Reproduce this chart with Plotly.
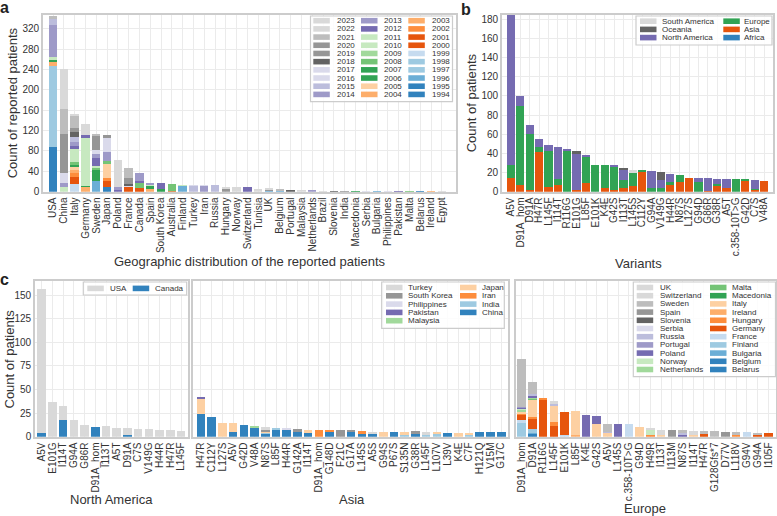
import plotly.graph_objects as go

W, H = 777, 516
FONT = "Liberation Sans, Arial, Helvetica, sans-serif"
TXT = "#333333"

# ---------------- Panel a: patients per country, stacked by year ----------------
countries = ["USA", "China", "Italy", "Germany", "Sweden", "Japan", "Poland", "France",
             "Canada", "Spain", "South Korea", "Australia", "Finland", "Turkey", "Iran",
             "Russia", "Hungary", "Norway", "Switzerland", "Tunisia", "UK", "Belgium",
             "Portugal", "Malaysia", "Netherlands", "Brazil", "Slovenia", "India",
             "Macedonia", "Serbia", "Bulgaria", "Philippines", "Pakistan", "Malta",
             "Belarus", "Ireland", "Egypt"]
years = list(range(1994, 2024))
year_colors = ["#3182bd", "#3182bd", "#6baed6", "#9ecae1", "#9ecae1", "#c6dbef",
               "#e6550d", "#e6550d", "#fd8d3c", "#fdae6b", "#fdae6b", "#fdd0a2",
               "#31a354", "#31a354", "#74c476", "#a1d99b", "#c7e9c0", "#c7e9c0",
               "#756bb1", "#9e9ac8", "#9e9ac8", "#bcbddc", "#dadaeb", "#dadaeb",
               "#636363", "#969696", "#969696", "#bdbdbd", "#d9d9d9", "#d9d9d9"]

# (year, count) pairs per country
usa = [(1995, 88), (1997, 159), (2003, 9), (2007, 3), (2010, 5), (2013, 63), (2015, 13), (2021, 5)]
china = [(2010, 10), (2014, 8), (2016, 19), (2019, 77), (2021, 49), (2022, 77)]
italy = [(1999, 16), (2000, 13), (2002, 7), (2003, 6), (2005, 7), (2007, 3), (2008, 7), (2010, 25),
         (2012, 6), (2014, 8), (2015, 10), (2018, 10), (2019, 7), (2021, 25), (2022, 2)]
germany = [(2003, 10), (2007, 2), (2010, 94), (2012, 5), (2022, 21)]
sweden = [(1996, 22), (2006, 20), (2008, 6), (2010, 3), (2012, 16), (2014, 7), (2016, 7), (2020, 28), (2021, 4)]
japan = [(1995, 9), (2001, 12), (2002, 5), (2005, 29), (2008, 5), (2013, 18), (2016, 28), (2019, 6)]
poland = [(2012, 4), (2014, 6), (2022, 53)]
france = [(2000, 10), (2016, 3), (2018, 3), (2020, 10), (2021, 20)]
canada = [(2000, 8), (2008, 11), (2012, 3), (2014, 15)]
spain = [(2004, 6), (2007, 5), (2010, 4), (2014, 3)]
south_korea = [(2007, 6), (2012, 11)]
australia = [(1996, 1), (2002, 1), (2008, 13)]
finland = [(1996, 12), (2010, 1)]
turkey = [(2015, 12), (2016, 1)]
iran = [(2014, 12), (2016, 1)]
russia = [(2015, 13)]
hungary = [(2019, 7), (2022, 3)]
norway = [(2022, 10)]
switzerland = [(2012, 9)]
tunisia = [(2022, 6)]
uk = [(1996, 2), (2019, 2), (2022, 2)]
belgium = [(1996, 3), (2021, 1)]
portugal = [(2018, 3)]
malaysia = [(2022, 2)]
netherlands = [(2014, 2)]
brazil = [(2022, 1)]
slovenia = [(2018, 1)]
india = [(2019, 1)]
macedonia = [(2007, 1)]
serbia = [(2016, 1)]
bulgaria = [(1996, 1)]
philippines = [(2016, 1)]
pakistan = [(2012, 1)]
malta = [(2008, 1)]
belarus = [(1995, 1)]
ireland = [(2004, 1)]
egypt = [(2022, 1)]
country_segments = [usa, china, italy, germany, sweden, japan, poland, france, canada, spain,
                    south_korea, australia, finland, turkey, iran, russia, hungary, norway,
                    switzerland, tunisia, uk, belgium, portugal, malaysia, netherlands, brazil,
                    slovenia, india, macedonia, serbia, bulgaria, philippines, pakistan, malta,
                    belarus, ireland, egypt]

# ---------------- Panel b: variants by continent ----------------
b_variants = ["A5V", "D91A_hom", "D91A", "H47R", "L145F", "I114T", "R116G", "E101G", "L85F",
              "E101K", "K4E", "G42S", "I113T", "L145S", "C112Y", "G94A", "V149G", "H44R",
              "N87S", "L127S", "G94D", "G86R", "G38R", "A5T", "c.358-10T>G", "G42D", "C7S", "V48A"]
b_africa = [0, 0, 0, 0, 0, 0, 0, 0, 0, 0, 0, 0, 0, 0, 0, 0, 0, 0, 0, 0, 0, 0, 0, 0, 0, 0, 0, 0]
b_asia = [14, 7, 2, 41, 5, 7, 0, 2, 9, 0, 4, 2, 4, 6, 21, 0, 0, 8, 10, 14, 0, 1, 6, 4, 0, 12, 2, 11]
b_europe = [14, 82, 58, 6, 38, 6, 43, 0, 28, 28, 24, 24, 8, 14, 1, 4, 4, 2, 7, 0, 10, 0, 2, 0, 13, 1, 1, 0]
b_namerica = [156, 11, 10, 8, 6, 34, 1, 38, 1, 0, 0, 1, 11, 0, 0, 18, 8, 8, 0, 0, 4, 13, 5, 9, 0, 0, 9, 0]
b_oceania = [0, 0, 0, 0, 0, 0, 0, 2, 0, 0, 0, 0, 2, 0, 0, 0, 9, 0, 0, 0, 0, 0, 0, 0, 0, 0, 0, 0]
b_samerica = [0, 0, 0, 0, 0, 0, 0, 0, 0, 0, 0, 0, 0, 3, 0, 0, 0, 0, 0, 0, 0, 0, 0, 0, 0, 0, 0, 0]
b_names = ["Africa", "Asia", "Europe", "North America", "Oceania", "South America"]
b_colors = ["#3182bd", "#e6550d", "#31a354", "#756bb1", "#636363", "#d9d9d9"]

# ---------------- Panel c: North America ----------------
na_variants = ["A5V", "E101G", "I114T", "G94A", "G86R", "D91A_hom", "I113T", "A5T", "D91A",
               "C7S", "V149G", "H44R", "H47R", "L145F"]
na_canada = [4, 0, 18, 0, 0, 10, 0, 0, 2, 0, 0, 0, 0, 0]
na_usa = [153, 37, 15, 18, 12, 0, 11, 9, 7, 8, 8, 7, 7, 6]
na_names = ["Canada", "USA"]
na_colors = ["#3182bd", "#d9d9d9"]

# ---------------- Panel c: Asia ----------------
asia_variants = ["H47R", "C112Y", "L127S", "A5V", "G42D", "V48A", "N87S", "L85F", "H44R", "G142A",
                 "I114T", "D91A_hom", "G148D", "F21C", "G17A", "L145S", "A5S", "G94S", "P67S",
                 "S135N", "G38R", "L145F", "L107V", "L39V", "K4E", "C7F", "H121Q", "V15M", "G17C"]
asia_china = [24, 21, 0, 5, 12, 10, 3, 8, 8, 5, 4, 0, 6, 0, 6, 3, 3, 0, 5, 0, 3, 0, 0, 4, 0, 0, 5, 5, 5]
asia_india = [0, 0, 0, 0, 0, 0, 1, 1, 0, 0, 0, 0, 0, 0, 0, 0, 0, 0, 0, 2, 0, 2, 3, 0, 0, 2, 0, 0, 0]
asia_iran = [0, 0, 0, 0, 0, 0, 0, 0, 0, 0, 0, 7, 1, 0, 0, 3, 0, 0, 0, 0, 0, 0, 0, 0, 0, 0, 0, 0, 0]
asia_japan = [16, 0, 14, 9, 0, 0, 1, 0, 0, 0, 3, 0, 0, 0, 0, 0, 0, 5, 0, 3, 0, 0, 1, 0, 4, 2, 0, 0, 0]
asia_malaysia = [0, 0, 0, 0, 0, 1, 0, 0, 0, 0, 0, 0, 0, 0, 0, 0, 0, 0, 0, 0, 0, 0, 0, 0, 0, 0, 0, 0, 0]
asia_pakistan = [2, 0, 0, 0, 0, 0, 0, 0, 0, 0, 0, 0, 0, 0, 0, 0, 0, 0, 0, 0, 0, 0, 0, 0, 0, 0, 0, 0, 0]
asia_philippines = [0, 0, 0, 0, 0, 0, 0, 0, 1, 0, 0, 0, 0, 0, 0, 0, 0, 0, 0, 0, 0, 0, 0, 0, 0, 0, 0, 0, 0]
asia_skorea = [0, 0, 0, 0, 0, 0, 3, 0, 0, 3, 0, 0, 0, 7, 1, 0, 0, 0, 0, 0, 3, 0, 0, 0, 0, 0, 0, 0, 0]
asia_turkey = [0, 0, 0, 0, 0, 0, 2, 0, 0, 0, 0, 0, 0, 0, 0, 0, 2, 0, 0, 0, 0, 3, 0, 0, 0, 0, 0, 0, 0]
asia_names = ["China", "India", "Iran", "Japan", "Malaysia", "Pakistan", "Philippines",
              "South Korea", "Turkey"]
asia_colors = ["#3182bd", "#9ecae1", "#fd8d3c", "#fdd0a2", "#a1d99b", "#756bb1", "#dadaeb",
               "#969696", "#d9d9d9"]
asia_values = [asia_china, asia_india, asia_iran, asia_japan, asia_malaysia, asia_pakistan,
               asia_philippines, asia_skorea, asia_turkey]

# ---------------- Panel c: Europe ----------------
eu_variants = ["D91A_hom", "D91A", "R116G", "L145F", "E101K", "L85F", "K4E", "G42S", "A5V", "L145S",
               "c.358-10T>G", "G94D", "H49R", "I113T", "I113M", "N87S", "I114T", "H47R",
               "G128Gfs*7", "D77V", "L118V", "G94V", "G94A", "I105F"]
eu_belarus = [0, 0, 0, 0, 0, 0, 0, 0, 0, 0, 0, 0, 0, 0, 0, 0, 0, 0, 0, 0, 0, 0, 0, 0]
eu_belgium = [0, 3, 0, 0, 0, 0, 0, 0, 0, 0, 0, 0, 0, 0, 0, 0, 0, 0, 0, 0, 0, 0, 0, 0]
eu_bulgaria = [0, 1, 0, 0, 0, 0, 0, 0, 0, 0, 0, 0, 0, 0, 0, 0, 0, 0, 0, 0, 0, 0, 0, 0]
eu_finland = [15, 4, 0, 0, 0, 0, 0, 0, 0, 0, 0, 0, 0, 0, 0, 0, 0, 0, 0, 0, 0, 0, 0, 0]
eu_france = [3, 0, 0, 0, 2, 0, 0, 0, 0, 0, 13, 0, 0, 0, 0, 0, 0, 0, 0, 0, 0, 5, 0, 0]
eu_germany = [5, 11, 39, 11, 24, 0, 0, 0, 0, 0, 0, 0, 0, 0, 0, 0, 0, 3, 0, 0, 0, 0, 2, 4]
eu_hungary = [1, 2, 1, 5, 0, 0, 0, 0, 0, 0, 0, 0, 2, 0, 0, 0, 0, 0, 0, 0, 2, 0, 0, 0]
eu_ireland = [0, 0, 0, 0, 0, 2, 0, 0, 0, 0, 0, 0, 0, 0, 0, 0, 0, 0, 0, 0, 0, 0, 0, 0]
eu_italy = [3, 18, 0, 17, 0, 25, 0, 13, 4, 0, 0, 10, 0, 2, 0, 0, 2, 0, 0, 0, 0, 0, 0, 0]
eu_macedonia = [0, 0, 0, 0, 0, 0, 0, 0, 0, 0, 0, 0, 0, 0, 0, 0, 0, 0, 0, 0, 0, 0, 0, 0]
eu_malta = [0, 2, 0, 0, 0, 0, 0, 0, 0, 0, 0, 0, 0, 0, 0, 0, 0, 0, 0, 0, 0, 0, 0, 0]
eu_netherlands = [2, 1, 0, 0, 0, 0, 0, 0, 0, 0, 0, 0, 0, 0, 0, 0, 0, 0, 0, 0, 0, 0, 0, 0]
eu_norway = [1, 0, 0, 0, 0, 0, 0, 0, 0, 0, 0, 0, 6, 0, 0, 0, 0, 0, 0, 0, 0, 0, 0, 0]
eu_poland = [1, 2, 0, 0, 0, 0, 23, 9, 0, 13, 0, 0, 0, 0, 0, 2, 0, 0, 0, 0, 0, 0, 0, 0]
eu_portugal = [1, 0, 0, 0, 0, 0, 0, 0, 0, 0, 0, 0, 0, 0, 0, 0, 0, 0, 0, 0, 0, 0, 0, 0]
eu_russia = [0, 1, 0, 2, 0, 0, 0, 0, 1, 0, 0, 0, 0, 0, 0, 2, 0, 0, 0, 0, 0, 0, 0, 0]
eu_serbia = [0, 0, 0, 0, 0, 0, 0, 0, 0, 0, 0, 0, 0, 0, 0, 0, 0, 0, 0, 0, 0, 0, 0, 0]
eu_slovenia = [0, 0, 0, 0, 0, 0, 0, 0, 0, 0, 0, 0, 0, 0, 0, 0, 0, 0, 0, 0, 0, 0, 0, 0]
eu_spain = [0, 0, 0, 0, 0, 0, 0, 0, 0, 0, 0, 0, 0, 0, 7, 0, 0, 0, 0, 5, 0, 0, 0, 0]
eu_sweden = [50, 13, 0, 0, 0, 0, 0, 0, 8, 0, 0, 0, 0, 0, 0, 3, 0, 3, 6, 0, 3, 0, 2, 0]
eu_switzerland = [0, 0, 0, 0, 0, 0, 0, 0, 0, 0, 0, 0, 0, 5, 0, 0, 0, 0, 0, 0, 0, 0, 0, 0]
eu_uk = [0, 0, 0, 3, 0, 0, 0, 0, 0, 0, 0, 0, 1, 0, 0, 0, 4, 0, 0, 0, 0, 0, 0, 0]
eu_names = ["Belarus", "Belgium", "Bulgaria", "Finland", "France", "Germany", "Hungary", "Ireland",
            "Italy", "Macedonia", "Malta", "Netherlands", "Norway", "Poland", "Portugal", "Russia",
            "Serbia", "Slovenia", "Spain", "Sweden", "Switzerland", "UK"]
eu_colors = ["#3182bd", "#3182bd", "#6baed6", "#9ecae1", "#c6dbef", "#e6550d", "#fd8d3c", "#fdae6b",
             "#fdd0a2", "#31a354", "#74c476", "#a1d99b", "#c7e9c0", "#756bb1", "#9e9ac8", "#bcbddc",
             "#dadaeb", "#636363", "#969696", "#bdbdbd", "#d9d9d9", "#d9d9d9"]
eu_values = [eu_belarus, eu_belgium, eu_bulgaria, eu_finland, eu_france, eu_germany, eu_hungary,
             eu_ireland, eu_italy, eu_macedonia, eu_malta, eu_netherlands, eu_norway, eu_poland,
             eu_portugal, eu_russia, eu_serbia, eu_slovenia, eu_spain, eu_sweden, eu_switzerland, eu_uk]

# ---------------- figure ----------------
fig = go.Figure()

for yr, col in zip(years, year_colors):
    vals = [sum(c for (y_, c) in seg if y_ == yr) for seg in country_segments]
    fig.add_trace(go.Bar(x=countries, y=vals, name=str(yr), marker_color=col, width=0.77,
                         xaxis="x", yaxis="y", showlegend=False))

for nm, col, vals in zip(b_names, b_colors, [b_africa, b_asia, b_europe, b_namerica, b_oceania, b_samerica]):
    fig.add_trace(go.Bar(x=b_variants, y=vals, name=nm, marker_color=col, width=0.88,
                         xaxis="x2", yaxis="y2", showlegend=False))

for nm, col, vals in zip(na_names, na_colors, [na_canada, na_usa]):
    fig.add_trace(go.Bar(x=na_variants, y=vals, name=nm, marker_color=col, width=0.8,
                         xaxis="x3", yaxis="y3", showlegend=False))

for nm, col, vals in zip(asia_names, asia_colors, asia_values):
    fig.add_trace(go.Bar(x=asia_variants, y=vals, name=nm, marker_color=col, width=0.8,
                         xaxis="x4", yaxis="y4", showlegend=False))

for nm, col, vals in zip(eu_names, eu_colors, eu_values):
    fig.add_trace(go.Bar(x=eu_variants, y=vals, name=nm, marker_color=col, width=0.8,
                         xaxis="x5", yaxis="y5", showlegend=False))


def px(x):
    return x / W


def py(y):
    return 1 - y / H


tickfont = dict(family=FONT, size=10, color=TXT)
common = dict(showline=True, mirror=True, linecolor="#cccccc", linewidth=1.6, showgrid=True,
              gridcolor="#ebebeb", gridwidth=1, zeroline=False, ticks="", tickfont=tickfont,
              automargin=False)


def xax(dom, rng, cats):
    return dict(common, domain=[px(dom[0]), px(dom[1])], range=rng, type="category",
                categoryorder="array", categoryarray=cats, tickangle=-90,
                tickmode="array", tickvals=cats, ticktext=cats)


def yax(top, bot, rng, dtick, **kw):
    d = dict(common, domain=[py(bot), py(top)], range=rng, dtick=dtick, tick0=0)
    d.update(kw)
    return d


shapes, annotations = [], []


def text(t, x, y, size=13, angle=0, bold=False, anchor="center"):
    annotations.append(dict(text=("<b>%s</b>" % t) if bold else t, x=px(x), y=py(y), xref="paper",
                            yref="paper", showarrow=False, textangle=angle, xanchor=anchor,
                            yanchor="middle", borderpad=0,
                            font=dict(family=FONT, size=size, color="#222222" if bold else TXT)))


def legend_box(x0, y0, x1, y1):
    shapes.append(dict(type="rect", xref="paper", yref="paper", x0=px(x0), x1=px(x1), y0=py(y1),
                       y1=py(y0), line=dict(color="#cccccc", width=1.2),
                       fillcolor="rgba(255,255,255,0.85)", layer="above"))


def legend_col(names, colors, sw_x, txt_x, y_first, step):
    for i, (n, c) in enumerate(zip(names, colors)):
        yc = y_first + i * step
        shapes.append(dict(type="rect", xref="paper", yref="paper", x0=px(sw_x), x1=px(sw_x + 16.5),
                           y0=py(yc + 2.8), y1=py(yc - 2.8), line=dict(width=0), fillcolor=c,
                           layer="above"))
        annotations.append(dict(text=n, x=px(txt_x - 1), y=py(yc), xref="paper", yref="paper",
                                xanchor="left", yanchor="middle", showarrow=False, borderpad=0,
                                font=dict(size=8, color=TXT, family=FONT)))


# legends (drawn as shapes + text)
yr_desc = list(reversed(years))
col_desc = list(reversed(year_colors))
legend_box(310.5, 16, 452.5, 101.7)
legend_col([str(v) for v in yr_desc[0:10]], col_desc[0:10], 313.3, 336.7, 20.7, 8.19)
legend_col([str(v) for v in yr_desc[10:20]], col_desc[10:20], 361, 384, 20.7, 8.19)
legend_col([str(v) for v in yr_desc[20:30]], col_desc[20:30], 408.3, 431.7, 20.7, 8.19)

b_names_d, b_colors_d = list(reversed(b_names)), list(reversed(b_colors))
legend_box(636, 16, 772, 45)
legend_col(b_names_d[0:3], b_colors_d[0:3], 640, 662.3, 21.2, 8.2)
legend_col(b_names_d[3:6], b_colors_d[3:6], 723.3, 744.3, 21.2, 8.2)

legend_box(83.3, 282, 186.7, 295)
legend_col(["USA"], ["#d9d9d9"], 87.3, 110, 288.4, 8.2)
legend_col(["Canada"], ["#3182bd"], 132.7, 155, 288.4, 8.2)

a_names_d, a_colors_d = list(reversed(asia_names)), list(reversed(asia_colors))
legend_box(381.7, 282, 504.3, 328.3)
legend_col(a_names_d[0:5], a_colors_d[0:5], 386, 408.3, 287.5, 8.3)
legend_col(a_names_d[5:9], a_colors_d[5:9], 460, 481.7, 287.5, 8.3)

e_names_d, e_colors_d = list(reversed(eu_names)), list(reversed(eu_colors))
legend_box(633.3, 282, 775.5, 376.7)
legend_col(e_names_d[0:11], e_colors_d[0:11], 636.7, 660, 287.5, 8.2)
legend_col(e_names_d[11:22], e_colors_d[11:22], 710, 732.3, 287.5, 8.2)

# titles and panel labels
text("Geographic distribution of the reported patients", 249.5, 261)
text("Variants", 638, 263)
text("North America", 111.7, 499)
text("Asia", 351.7, 499)
text("Europe", 645, 508)
text("Count of reported patients", 12, 103.3, angle=-90)
text("Count of patients", 471, 103.3, angle=-90)
text("Count of patients", 8.5, 359, angle=-90)
text("a", 4.5, 7.5, size=16, bold=True)
text("b", 466, 9.5, size=16, bold=True)
text("c", 4.5, 279, size=16, bold=True)

fig.update_layout(
    width=W, height=H, template="none", barmode="stack",
    margin=dict(l=0, r=0, t=0, b=0), paper_bgcolor="white", plot_bgcolor="white",
    font=dict(family=FONT, color=TXT), showlegend=False,
    xaxis=xax((43, 456), [-0.93, 37.31], countries),
    yaxis=yax(15, 191.7, [0, 347], 40, anchor="x"),
    xaxis2=dict(xax((502, 773), [-0.96, 27.96], b_variants), anchor="y2"),
    yaxis2=yax(15, 191.7, [0, 184.5], 20, anchor="x2"),
    xaxis3=dict(xax((35, 187.7), [-0.625, 13.62], na_variants), anchor="y3"),
    yaxis3=yax(281, 436.7, [0, 165], 25, anchor="x3"),
    xaxis4=dict(xax((192.7, 508), [-0.77, 28.63], asia_variants), anchor="y4"),
    yaxis4=yax(281, 436.7, [0, 165], 25, anchor="x4", showticklabels=False),
    xaxis5=dict(xax((515.7, 775.8), [-0.56, 23.7], eu_variants), anchor="y5"),
    yaxis5=yax(281, 436.7, [0, 165], 25, anchor="x5", showticklabels=False),
    shapes=shapes, annotations=annotations,
)

fig.write_html("out.html", config={"displayModeBar": False},
               post_script="document.body.style.margin='0px';document.body.style.overflow='hidden';")
